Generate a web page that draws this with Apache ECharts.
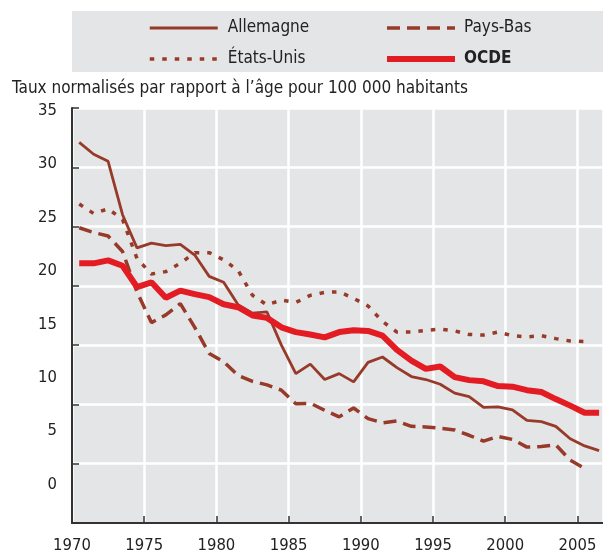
<!DOCTYPE html>
<html><head><meta charset="utf-8">
<script src="https://cdn.jsdelivr.net/npm/echarts@6/dist/echarts.min.js"></script>
<style>html,body{margin:0;padding:0;background:#fff}#c{width:603px;height:554px}</style>
</head><body><div id="c"></div>
<script>
const years = [1970,1971,1972,1973,1974,1975,1976,1977,1978,1979,1980,1981,1982,1983,1984,1985,1986,1987,1988,1989,1990,1991,1992,1993,1994,1995,1996,1997,1998,1999,2000,2001,2002,2003,2004,2005,2006];
const allemagne = [32.1,31.1,30.5,26.0,23.2,23.6,23.4,23.5,22.6,20.8,20.3,18.4,17.7,17.8,15.0,12.6,13.4,12.1,12.6,11.9,13.55,14.0,13.1,12.35,12.1,11.7,10.95,10.65,9.75,9.8,9.55,8.65,8.55,8.15,7.1,6.5,6.1];
const etatsUnis = [26.9,26.1,26.5,25.6,22.3,21.0,21.2,21.9,22.8,22.8,22.2,21.3,19.2,18.4,18.8,18.6,19.2,19.45,19.5,18.95,18.3,17.0,16.1,16.1,16.25,16.35,16.2,15.9,15.85,16.1,15.8,15.7,15.8,15.55,15.35,15.3,null];
const paysBas = [24.9,24.5,24.2,22.9,19.5,16.9,17.55,18.5,16.5,14.3,13.6,12.45,11.95,11.65,11.2,10.05,10.1,9.5,8.95,9.7,8.8,8.45,8.6,8.15,8.1,8.0,7.85,7.4,6.9,7.3,7.05,6.4,6.45,6.6,5.3,4.6,null];
const ocde = [21.9,21.9,22.15,21.7,19.9,20.3,19.0,19.6,19.3,19.05,18.45,18.2,17.5,17.3,16.5,16.1,15.9,15.65,16.1,16.25,16.2,15.8,14.6,13.7,13.0,13.2,12.3,12.05,11.95,11.55,11.5,11.2,11.05,10.45,9.9,9.3,9.3];
const yTickLabels = [0,5,10,15,20,25,30,35];
const titleText = 'Taux normalisés par rapport à l’âge pour 100 000 habitants';

const FONT = '"DejaVu Sans Condensed","Liberation Sans Narrow",sans-serif';
const BROWN = '#983a2a';
const RED = '#e31b23';
const pts = arr => years.map((y,i)=>[y+0.5, arr[i]]);

const chart = echarts.init(document.getElementById('c'));
chart.setOption({
  animation:false,
  textStyle:{fontFamily:FONT},
  graphic:[{type:'rect',shape:{x:72,y:11,width:531,height:61},style:{fill:'#e4e5e7'},z:-1}],
  title:{text:titleText,left:12,top:80,padding:0,textStyle:{fontFamily:FONT,fontSize:17,fontWeight:'normal',color:'#222'}},
  legend:[
    {orient:'vertical',left:143,top:13,itemWidth:68,itemHeight:20,itemGap:11,
     data:['Allemagne','États-Unis'],lineStyle:{width:'inherit'},itemStyle:{opacity:0},
     textStyle:{fontFamily:FONT,fontSize:17,color:'#222',lineHeight:20,padding:[0,0,0,5]}},
    {orient:'vertical',left:379,top:13,itemWidth:68,itemHeight:20,itemGap:11,
     data:['Pays-Bas',{name:'OCDE',textStyle:{fontWeight:'bold'}}],lineStyle:{width:'inherit'},itemStyle:{opacity:0},
     textStyle:{fontFamily:FONT,fontSize:17,color:'#222',lineHeight:20,padding:[0,0,0,4]}}
  ],
  grid:{left:72,right:0,top:108,bottom:28.6,show:true,backgroundColor:'#e4e5e7',borderWidth:0},
  xAxis:{type:'value',min:1970,max:2006.77,interval:5,
    axisLine:{lineStyle:{color:'#333',width:2}},
    axisTick:{inside:true,length:7,lineStyle:{color:'#333',width:1.5}},
    axisLabel:{fontFamily:FONT,fontSize:16.5,color:'#222',margin:14,showMaxLabel:false,
      formatter:v=> (v%5===0? String(v):'')},
    splitLine:{show:true,lineStyle:{color:'#fff',width:2.5}}},
  yAxis:[
    {type:'value',min:0,max:35,interval:5,
     axisLine:{show:true,lineStyle:{color:'#333',width:2}},
     axisTick:{show:true,inside:true,length:7,lineStyle:{color:'#333',width:1.5}},
     axisLabel:{show:false},
     splitLine:{show:true,lineStyle:{color:'#fff',width:2.5}}},
    {type:'value',position:'left',min:-3.6,max:35.26,
     axisLine:{show:false},axisTick:{show:false},splitLine:{show:false},
     axisLabel:{show:true,customValues:yTickLabels,fontFamily:FONT,fontSize:16.5,color:'#222',margin:15}}
  ],
  series:[
    {name:'Allemagne',type:'line',symbol:'none',data:pts(allemagne),lineStyle:{color:BROWN,width:2.8},itemStyle:{color:BROWN},z:3},
    {name:'États-Unis',type:'line',symbol:'none',data:pts(etatsUnis),lineStyle:{color:BROWN,width:3.5,type:[4.5,8]},itemStyle:{color:BROWN},z:3},
    {name:'Pays-Bas',type:'line',symbol:'none',data:pts(paysBas),lineStyle:{color:BROWN,width:3.5,type:[13,7]},itemStyle:{color:BROWN},z:3},
    {name:'OCDE',type:'line',symbol:'none',data:pts(ocde),lineStyle:{color:RED,width:6},itemStyle:{color:RED},z:4}
  ]
});
</script></body></html>
